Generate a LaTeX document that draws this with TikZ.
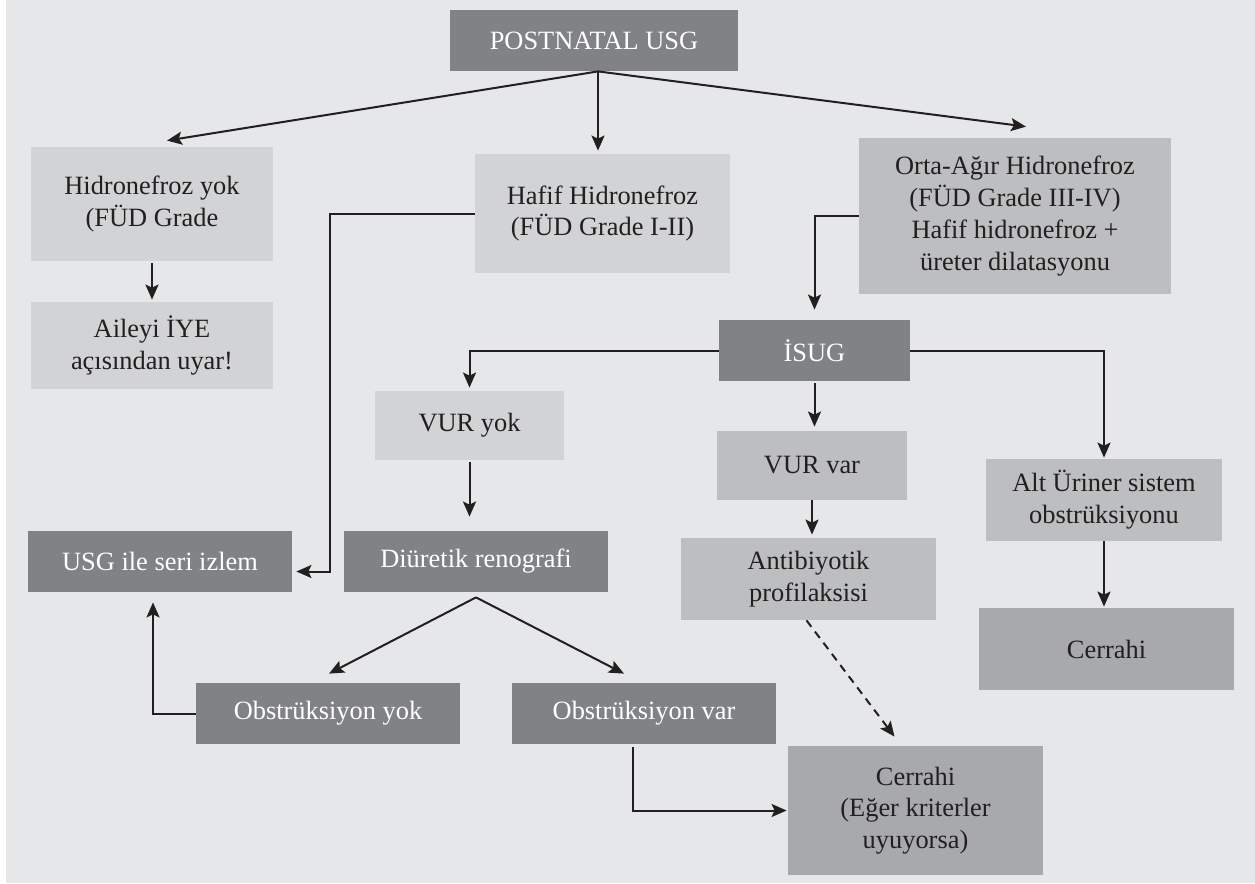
\documentclass[tikz,border=0pt]{standalone}
\usepackage{fontspec}
\setmainfont{Liberation Serif}
\usepackage{tikz}
\usetikzlibrary{arrows.meta,positioning,calc}
\usepackage{xcolor}
\definecolor{pagegray}{HTML}{E6E7E8}
\definecolor{boxlight}{HTML}{D1D3D4}
\definecolor{boxmid}{HTML}{BCBEC0}
\definecolor{boxsurg}{HTML}{A7A9AC}
\definecolor{boxdark}{HTML}{808285}
\definecolor{inkblack}{HTML}{231F20}

\begin{document}
\begin{tikzpicture}[x=.5pt,y=-.5pt,
  every node/.style={font=\fontsize{13.2}{15.9}\selectfont,align=center,inner sep=0pt,text=inkblack},
  darkbox/.style={fill=boxdark,text=white},
  lightbox/.style={fill=boxlight},
  midbox/.style={fill=boxmid},
  surgbox/.style={fill=boxsurg},
  arr/.style={draw=inkblack,line width=1pt,-{Stealth[length=7.5pt,width=6.5pt,inset=1.5pt]}}]
  \fill[pagegray] (6,0) rectangle (1255,883);
  \useasboundingbox (0,0) rectangle (1255,884);

  \node[darkbox,minimum width=144pt,minimum height=30.5pt] (postnatal) at (594,40.5) {POSTNATAL USG};
  \node[lightbox,minimum width=121pt,minimum height=57pt] (hnyok) at (152,204) {Hidronefroz yok\\(FÜD Grade};
  \node[lightbox,minimum width=121pt,minimum height=43.5pt] (aile) at (152,345.5) {Aileyi İYE\\açısından uyar!};
  \node[lightbox,minimum width=127.5pt,minimum height=59.5pt] (hafif) at (602.5,213.5) {Hafif Hidronefroz\\(FÜD Grade I-II)};
  \node[midbox,minimum width=156pt,minimum height=78pt] (orta) at (1015,216) {Orta-Ağır Hidronefroz\\(FÜD Grade III-IV)\\Hafif hidronefroz +\\üreter dilatasyonu};
  \node[darkbox,minimum width=95.5pt,minimum height=30.5pt] (isug) at (814.5,350.5) {İSUG};
  \node[lightbox,minimum width=94.5pt,minimum height=34.5pt] (vuryok) at (469.5,425.5) {VUR yok};
  \node[midbox,minimum width=95pt,minimum height=34.5pt] (vurvar) at (812,465.5) {VUR var};
  \node[midbox,minimum width=118pt,minimum height=41pt] (alt) at (1104,500) {Alt Üriner sistem\\obstrüksiyonu};
  \node[midbox,minimum width=127.5pt,minimum height=41pt] (anti) at (808.5,579) {Antibiyotik\\profilaksisi};
  \node[darkbox,minimum width=132pt,minimum height=30.5pt] (usgseri) at (160,561.5) {USG ile seri izlem};
  \node[darkbox,minimum width=132pt,minimum height=30.5pt] (diur) at (476,561.5) {Diüretik renografi};
  \node[surgbox,minimum width=127.5pt,minimum height=41pt] (cerrahi) at (1106.5,649) {Cerrahi};
  \node[darkbox,minimum width=132pt,minimum height=30.5pt] (obsyok) at (328,713.5) {Obstrüksiyon yok};
  \node[darkbox,minimum width=132pt,minimum height=30.5pt] (obsvar) at (644,713.5) {Obstrüksiyon var};
  \node[surgbox,minimum width=127.5pt,minimum height=64.5pt] (kosul) at (915.5,810.5) {Cerrahi\\(Eğer kriterler\\uyuyorsa)};

  \coordinate (fork) at ($(postnatal.south)+(4,0)$);
  \draw[arr] (fork) -- ($(hnyok.north)+(15,-6)$);
  \draw[arr,shorten >=1.5pt] (fork) -- (fork |- hafif.north);
  \draw[arr] (fork) -- ($(orta.north)+(11,-11)$);
  \draw[arr,shorten <=1pt,shorten >=1pt] (hnyok) -- (aile);
  \draw[arr] (hafif.west) -| ($(usgseri.east)+(38,10)$) -- ($(usgseri.east)+(4,10)$);
  \draw[arr,shorten >=5pt] (orta.west) -| (isug.north);
  \draw[arr,shorten >=1.5pt] (isug.west) -| (vuryok.north);
  \draw[arr,shorten >=.5pt] (isug.east) -| (alt.north);
  \draw[arr,shorten <=1pt,shorten >=2pt] (isug.south) -- (isug.south |- vurvar.north);
  \draw[arr,shorten >=1.5pt] (vurvar.south) -- (vurvar.south |- anti.north);
  \draw[arr,shorten >=.5pt] (alt.south) -- (alt.south |- cerrahi.north);
  \draw[arr,shorten <=1pt,shorten >=7pt] (vuryok.south) -- (vuryok.south |- diur.north);
  \coordinate (dfork) at ($(diur.south)+(0,5)$);
  \draw[arr] (dfork) -- ($(obsyok.north)+(1,-9)$);
  \draw[arr] (dfork) -- ($(obsvar.north)+(-20,-9)$);
  \draw[arr,shorten >=5pt] (obsyok.west) -| ($(usgseri.south)+(-7,0)$);
  \draw[arr] ($(obsvar.south)+(-11,3)$) |- ($(kosul.west)+(-1,0)$);
  \draw[arr,dash pattern=on 4pt off 3pt] ($(anti.south)+(-2,0)$) -- ($(kosul.north)+(-21,-9)$);
\end{tikzpicture}
\end{document}
